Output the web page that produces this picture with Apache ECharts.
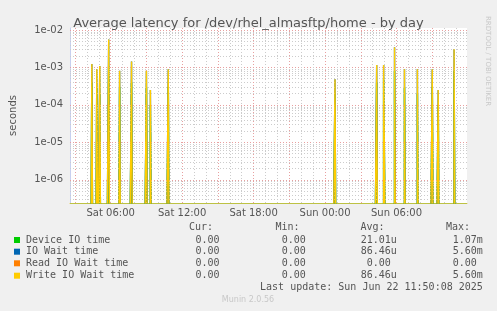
<!DOCTYPE html>
<html><head><meta charset="utf-8">
<script src="https://cdn.jsdelivr.net/npm/echarts@6/dist/echarts.min.js"></script>
<style>html,body{margin:0;padding:0;background:#f0f0f0}#c{width:497px;height:311px}</style>
</head><body><div id="c"></div>
<script>
// ---- data ----
const rangeStart = '2025-06-21 02:35';
const rangeEnd   = '2025-06-22 11:55';
const xTickTimes = ['2025-06-21 06:00','2025-06-21 12:00','2025-06-21 18:00','2025-06-22 00:00','2025-06-22 06:00'];
const spikeTimes = ['2025-06-21 04:30','2025-06-21 04:55','2025-06-21 05:10','2025-06-21 05:55','2025-06-21 06:50',
  '2025-06-21 07:50','2025-06-21 09:05','2025-06-21 09:25','2025-06-21 10:55','2025-06-22 00:55',
  '2025-06-22 04:25','2025-06-22 05:00','2025-06-22 05:05','2025-06-22 05:55','2025-06-22 06:45',
  '2025-06-22 07:50','2025-06-22 09:05','2025-06-22 09:35','2025-06-22 10:55'];
const writeWait = [1.24e-3,9.0e-4,1.1e-3,5.6e-3,8.1e-4,1.43e-3,8.1e-4,2.5e-4,9.0e-4,4.8e-4,
  1.17e-3,1.17e-3,1.17e-3,3.45e-3,9.0e-4,9.0e-4,9.0e-4,2.5e-4,3.05e-3];
const ioWait = [1.24e-3,9.0e-4,1.1e-3,5.6e-3,8.1e-4,1.43e-3,8.1e-4,2.5e-4,9.0e-4,4.8e-4,
  1.17e-3,1.17e-3,1.17e-3,3.45e-3,9.0e-4,9.0e-4,9.0e-4,2.5e-4,3.05e-3];
const readWait = [0,0,0,0,0,0,0,0,0,0,0,0,0,0,0,0,0,0,0];
const deviceIO = [4e-4,3e-4,2e-4,1.07e-3,3e-4,4e-4,3e-4,1e-4,3e-4,2e-4,
  4e-4,5e-4,5e-4,8e-4,3e-4,2e-4,3e-4,1e-4,8e-4];

const legendNames = ['Device IO time','IO Wait time','Read IO Wait time','Write IO Wait time'];
const legendColors = ['#00CC00','#0066B3','#FF8000','#FFCC00'];
const curVals = ['0.00','0.00','0.00','0.00'];
const minVals = ['0.00','0.00','0.00','0.00'];
const avgVals = ['21.01u','86.46u','0.00','86.46u'];
const maxVals = ['1.07m','5.60m','0.00','5.60m'];
const yTickVals = [1e-6,1e-5,1e-4,1e-3,1e-2];
const yTickLabels = ['1e-06','1e-05','1e-04','1e-03','1e-02'];

// ---- helpers ----
function parse(s){const [d,t]=s.split(' ');const [Y,M,D]=d.split('-').map(Number);const [h,m]=t.split(':').map(Number);return new Date(Y,M-1,D,h,m).getTime();}
const STEP = 5*60*1000;
const START = parse(rangeStart), END = parse(rangeEnd);
const YMIN = 2.4e-7, YMAX = 1.13e-2;
const FLOOR = 1e-9; // zero drawn below the log axis floor (clipped)
function build(vals){
  const map = new Map();
  spikeTimes.forEach((s,i)=>map.set(parse(s), vals[i]));
  const out=[];
  for(let t=START;t<=END;t+=STEP){const v=map.get(t)||0;out.push([t, v>0?v:FLOOR]);}
  return out;
}
const pad=n=>String(n).padStart(2,'0');
const days=['Sun','Mon','Tue','Wed','Thu','Fri','Sat'];

// grid lines (horizontal ones on a hidden linear axis in log10 space)
const gridLines=[];
for(let e=-7;e<=-2;e++){
  for(let k=1;k<=9;k++){
    const v=k*Math.pow(10,e);
    if(v<YMIN||v>YMAX) continue;
    gridLines.push({yAxis:Math.log10(v),lineStyle:{color:k===1?'#e8a0a0':'#cccccc',type:[1,2],width:1}});
  }
}
for(let t=parse('2025-06-21 03:00');t<END;t+=3600e3){
  const h=new Date(t).getHours();
  gridLines.push({xAxis:t,lineStyle:{color:h%3===0?'#e8a0a0':'#cccccc',type:[1,2],width:1}});
}

const chart=echarts.init(document.getElementById('c'),null,{renderer:'canvas'});
const font='DejaVu Sans', mono='DejaVu Sans Mono';
const graphics=[];
graphics.push({type:'text',x:491,y:16,rotation:-Math.PI/2,style:{text:'RRDTOOL / TOBI OETIKER',fill:'#c8c8c8',font:'7px '+font}});
const rowY=[240,251.7,263.3,275.7];
const hdr=[['Cur:',213],['Min:',299.5],['Avg:',384.5],['Max:',470]];
hdr.forEach(h=>graphics.push({type:'text',x:h[1],y:227.7,style:{text:h[0],fill:'#555',font:'10px '+mono,align:'right',verticalAlign:'middle'}}));
legendNames.forEach((n,i)=>{
  const y=rowY[i];
  graphics.push({type:'rect',shape:{x:14,y:y-3,width:6,height:6},style:{fill:legendColors[i]}});
  graphics.push({type:'text',x:26,y:y,style:{text:n,fill:'#555',font:'10px '+mono,verticalAlign:'middle'}});
  graphics.push({type:'text',x:219.5,y:y,style:{text:curVals[i],fill:'#555',font:'10px '+mono,align:'right',verticalAlign:'middle'}});
  graphics.push({type:'text',x:305.8,y:y,style:{text:minVals[i],fill:'#555',font:'10px '+mono,align:'right',verticalAlign:'middle'}});
  const avgX = avgVals[i]==='0.00'?390.8:396.8;
  const maxX = maxVals[i]==='0.00'?476.8:482.8;
  graphics.push({type:'text',x:avgX,y:y,style:{text:avgVals[i],fill:'#555',font:'10px '+mono,align:'right',verticalAlign:'middle'}});
  graphics.push({type:'text',x:maxX,y:y,style:{text:maxVals[i],fill:'#555',font:'10px '+mono,align:'right',verticalAlign:'middle'}});
});
graphics.push({type:'text',x:482.8,y:287.7,style:{text:'Last update: Sun Jun 22 11:50:08 2025',fill:'#555',font:'10px '+mono,align:'right',verticalAlign:'middle'}});
graphics.push({type:'text',x:248,y:300,style:{text:'Munin 2.0.56',fill:'#c8c8c8',font:'8px '+font,align:'center',verticalAlign:'middle'}});

function lineSeries(name,vals,color,z,w,extra){
  return Object.assign({name,type:'line',data:build(vals),showSymbol:false,symbol:'none',z,step:'start',
    lineStyle:{color,width:w},itemStyle:{color},clip:true,animation:false},extra||{});
}

chart.setOption({
  backgroundColor:'#f0f0f0',
  animation:false,
  title:{text:'Average latency for /dev/rhel_almasftp/home - by day',left:'center',top:12,
    textStyle:{fontFamily:font,fontSize:13,fontWeight:'normal',color:'#555'}},
  grid:{left:67,right:30,top:28,bottom:108,show:true,backgroundColor:'#ffffff',borderWidth:0},
  xAxis:{type:'value',min:START,max:END,scale:true,
    splitLine:{show:false},axisTick:{show:false},
    axisLine:{show:true,lineStyle:{color:'#e8cc50',width:1}},
    axisLabel:{customValues:xTickTimes.map(parse),color:'#555',fontFamily:font,fontSize:10,margin:5,hideOverlap:false,
      formatter:function(v){const d=new Date(v);return days[d.getDay()]+' '+pad(d.getHours())+':'+pad(d.getMinutes());}}},
  yAxis:[{type:'log',logBase:10,min:YMIN,max:YMAX,
    name:'seconds',nameLocation:'middle',nameRotate:90,nameGap:52,
    nameTextStyle:{color:'#555',fontFamily:font,fontSize:10},
    splitLine:{show:false},axisTick:{show:false},
    axisLine:{show:true,lineStyle:{color:'#c8d0f0'}},
    axisLabel:{customValues:yTickVals,color:'#555',fontFamily:font,fontSize:10,margin:7,hideOverlap:false,
      formatter:function(v){const i=yTickVals.findIndex(x=>Math.abs(Math.log10(x)-Math.log10(v))<0.01);return i<0?'':yTickLabels[i];}}},
    {type:'value',show:false,min:Math.log10(YMIN),max:Math.log10(YMAX),scale:true,splitLine:{show:false}}],
  graphic:graphics,
  series:[
    {type:'line',yAxisIndex:1,data:[[START,Math.log10(YMIN)]],showSymbol:false,symbol:'none',z:1,lineStyle:{opacity:0},silent:true,
      markLine:{silent:true,symbol:'none',label:{show:false},animation:false,data:gridLines}},
    lineSeries('Device IO time',deviceIO,'#00CC00',3,1.5,{areaStyle:{color:'#9cba3c',opacity:0.75,origin:'start'}}),
    lineSeries('IO Wait time',ioWait,'#0066B3',4,1.4),
    lineSeries('Read IO Wait time',readWait,'#FF8000',5,1.4),
    lineSeries('Write IO Wait time',writeWait,'#FFCC00',6,1.4)
  ]
});
</script></body></html>
